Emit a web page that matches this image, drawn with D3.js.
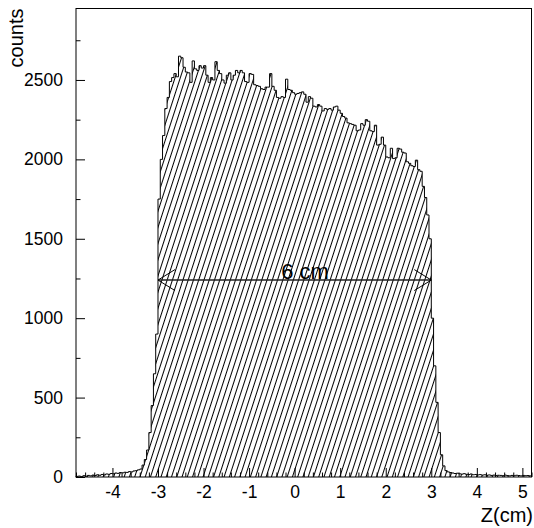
<!DOCTYPE html>
<html>
  <head>
    <title>Z distribution</title>
    <meta http-equiv="Content-Type" content="text/html;charset=utf-8">
    <style>
      body { margin: 0; background: white; }
      svg { display: block; font-family: "Liberation Sans", Arial, sans-serif; }
      .axis text { font-size: 17.5px; fill: black; }
      .axis line { stroke: black; stroke-width: 1; }
    </style>
  </head>
  <body>
    <div id="chart"></div>
    <script src="https://d3js.org/d3.v7.min.js"></script>
    <script>
      (function(d3) {
        'use strict';

        // histogram binning (cm)
        var xMin = -4.8;
        var binWidth = 0.05;

        // counts per bin (200 bins from -4.8 to 5.2)
        var tailLeft = [4, 6, 2, 8, 5, 10, 7, 12, 9, 14, 11, 16, 13, 19, 17, 22, 20, 25, 23, 28,
                        26, 30, 29, 34, 32, 38, 40, 45];
        var riseLeft = [50, 75, 110, 170, 280, 450, 650, 900];
        var plateau = [1750, 2000, 2150, 2320, 2390, 2490, 2515, 2540, 2520, 2650,
                       2640, 2580, 2550, 2545, 2485, 2620, 2570, 2560, 2590, 2575,
                       2590, 2530, 2485, 2515, 2500, 2615, 2560, 2540, 2500, 2480,
                       2530, 2545, 2500, 2530, 2560, 2545, 2560, 2545, 2490, 2485,
                       2540, 2535, 2470, 2465, 2460, 2445, 2440, 2455, 2455, 2540,
                       2460, 2435, 2390, 2385, 2395, 2390, 2505, 2440, 2435, 2420,
                       2410, 2415, 2420, 2425, 2410, 2360, 2395, 2385, 2335, 2330,
                       2345, 2335, 2305, 2320, 2315, 2320, 2310, 2330, 2335, 2310,
                       2290, 2270, 2260, 2230, 2225, 2220, 2215, 2180, 2185, 2225,
                       2215, 2250, 2240, 2180, 2175, 2215, 2090, 2095, 2140, 2090,
                       2015, 2010, 2070, 2005, 2010, 2070, 2065, 2045, 2040, 1985,
                       1975, 1960, 1955, 1995, 1935, 1925, 1830, 1760, 1650, 1500];
        var fallRight = [1000, 700, 470, 280, 140, 70, 40];
        var tailRight = [32, 28, 25, 22, 24, 20, 18, 21, 17, 15, 19, 14, 16, 13, 15, 12, 14, 11, 13, 10,
                         12, 9, 11, 10, 8, 12, 9, 7, 10, 8, 11, 9, 7, 10, 8, 9, 7];

        var counts = [].concat(tailLeft, riseLeft, plateau, fallRight, tailRight);

        var xTicks = [-4, -3, -2, -1, 0, 1, 2, 3, 4, 5];
        var yTicks = [0, 500, 1000, 1500, 2000, 2500];

        // arrow marking the 6 cm width
        var arrowFrom = -3;
        var arrowTo = 3;
        var arrowLevel = 1240;

        var width = 534;
        var height = 528;
        var left = 76, right = 531.5, top = 8.5, bottom = 477;

        var xMax = xMin + binWidth * counts.length;

        var x = d3.scaleLinear().domain([xMin, xMax]).range([left, right]);
        var y = d3.scaleLinear().domain([0, 2950]).range([bottom, top]);

        var svg = d3.select('#chart')
          .append('svg')
          .attr('width', width)
          .attr('height', height);

        // hatch pattern like ROOT's "/" fill
        svg.append('defs')
          .append('pattern')
          .attr('id', 'hatch')
          .attr('patternUnits', 'userSpaceOnUse')
          .attr('width', 5)
          .attr('height', 20)
          .attr('patternTransform', 'rotate(18)')
          .append('line')
          .attr('x1', 0.5).attr('y1', 0)
          .attr('x2', 0.5).attr('y2', 20)
          .attr('stroke', 'black')
          .attr('stroke-width', 1);

        // step outline of the histogram
        var pts = [[x(xMin), y(0)]];
        counts.forEach(function(c, i) {
          var x0 = x(xMin + i * binWidth);
          var x1 = x(xMin + (i + 1) * binWidth);
          pts.push([x0, y(c)]);
          pts.push([x1, y(c)]);
        });
        pts.push([x(xMax), y(0)]);

        var line = d3.line();

        svg.append('path')
          .attr('d', line(pts) + 'Z')
          .attr('fill', 'url(#hatch)')
          .attr('stroke', 'none');

        svg.append('path')
          .attr('d', line(pts))
          .attr('fill', 'none')
          .attr('stroke', 'black')
          .attr('stroke-width', 1);

        // frame
        svg.append('rect')
          .attr('x', left)
          .attr('y', top)
          .attr('width', right - left)
          .attr('height', bottom - top)
          .attr('fill', 'none')
          .attr('stroke', 'black')
          .attr('stroke-width', 1);

        // y axis: major + minor ticks pointing inside
        var yAxis = d3.axisLeft(y)
          .tickValues(yTicks)
          .tickSizeInner(-9)
          .tickSizeOuter(0)
          .tickPadding(13)
          .tickFormat(d3.format('d'));

        svg.append('g')
          .attr('class', 'axis')
          .attr('transform', 'translate(' + left + ',0)')
          .call(yAxis)
          .call(function(g) { g.select('.domain').remove(); });

        var yMinor = yTicks.map(function(t) { return t + 250; });
        svg.append('g')
          .attr('class', 'axis')
          .attr('transform', 'translate(' + left + ',0)')
          .call(d3.axisLeft(y).tickValues(yMinor).tickSize(-4.5).tickFormat(''))
          .call(function(g) { g.select('.domain').remove(); });

        // x axis
        var xAxis = d3.axisBottom(x)
          .tickValues(xTicks)
          .tickSizeInner(-9)
          .tickSizeOuter(0)
          .tickPadding(9)
          .tickFormat(function(d) { return String(d); });

        svg.append('g')
          .attr('class', 'axis')
          .attr('transform', 'translate(0,' + bottom + ')')
          .call(xAxis)
          .call(function(g) { g.select('.domain').remove(); });

        var xMinor = d3.range(-24, 27).map(function(k) { return k / 5; })
          .filter(function(v) { return Math.abs(v - Math.round(v)) > 1e-6; });
        svg.append('g')
          .attr('class', 'axis')
          .attr('transform', 'translate(0,' + bottom + ')')
          .call(d3.axisBottom(x).tickValues(xMinor).tickSize(-4.5).tickFormat(''))
          .call(function(g) { g.select('.domain').remove(); });

        // axis titles
        svg.append('text')
          .attr('transform', 'translate(23,' + top + ') rotate(-90)')
          .attr('text-anchor', 'end')
          .style('font-size', '20px')
          .text('counts');

        svg.append('text')
          .attr('x', 533)
          .attr('y', 522)
          .attr('text-anchor', 'end')
          .style('font-size', '20px')
          .text('Z(cm)');

        // double arrow with label
        var ay = y(arrowLevel);
        var xa = x(arrowFrom), xb = x(arrowTo);
        var head = 'M' + (xa + 17) + ',' + (ay - 10.5) + 'L' + xa + ',' + ay + 'L' + (xa + 17) + ',' + (ay + 10.5) +
                   'M' + (xb - 17) + ',' + (ay - 10.5) + 'L' + xb + ',' + ay + 'L' + (xb - 17) + ',' + (ay + 10.5);

        svg.append('line')
          .attr('x1', xa).attr('y1', ay)
          .attr('x2', xb).attr('y2', ay)
          .attr('stroke', '#222')
          .attr('stroke-width', 1.6);

        svg.append('path')
          .attr('d', head)
          .attr('fill', 'none')
          .attr('stroke', 'black')
          .attr('stroke-width', 1);

        svg.append('text')
          .attr('x', x(0.23))
          .attr('y', ay - 1)
          .attr('text-anchor', 'middle')
          .style('font-size', '22px')
          .text('6 cm');

      })(window.d3);
    </script>
  </body>
</html>
